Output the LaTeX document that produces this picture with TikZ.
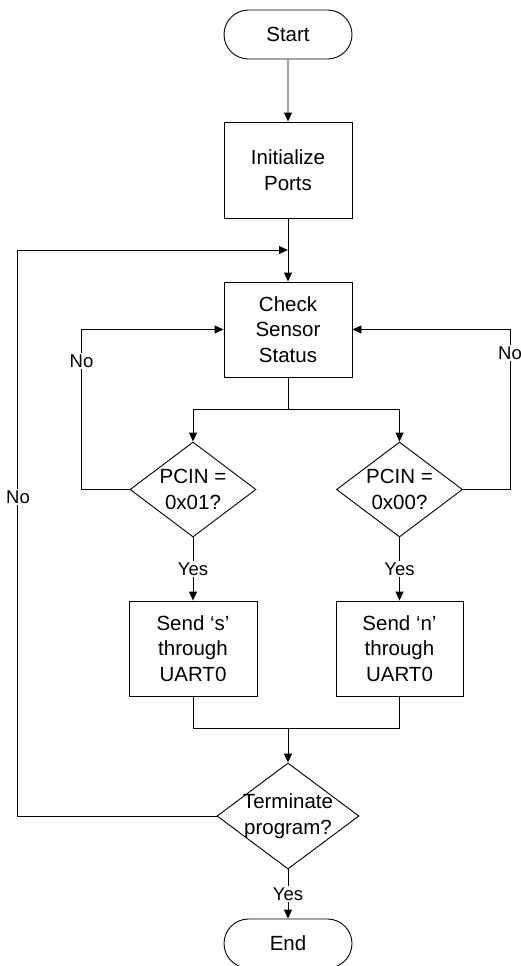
\documentclass[tikz,border=0pt]{standalone}
\usepackage{fontspec}
\setmainfont{Liberation Sans}
\usetikzlibrary{shapes.geometric,shapes.misc,arrows.meta}
\tikzset{
  base/.style={draw=black, line width=0.9pt, inner sep=0pt, align=center,
    font=\fontsize{20.5}{25.5}\selectfont},
  term/.style={base, rounded rectangle, minimum width=128pt, minimum height=49pt},
  proc/.style={base, rectangle, minimum width=128pt, minimum height=95pt},
  dec/.style={base, diamond, minimum width=126pt, minimum height=95pt},
  dtext/.style={align=center, inner sep=0pt, font=\fontsize{20.5}{25.5}\selectfont},
  lbl/.style={fill=white, inner sep=1.5pt, font=\fontsize{18.5}{20}\selectfont},
  conn/.style={line width=0.9pt, draw=black},
  arr/.style={conn, -{Triangle[length=9pt,width=8pt]}}
}
\begin{document}
\begin{tikzpicture}[x=1pt,y=-1pt]
\useasboundingbox (0,0) rectangle (521,966);
% nodes
\node[term] (start) at (288,34.5) {Start};
\node[proc, minimum height=96pt] (init) at (288,170) {Initialize\\Ports};
\node[proc] (check) at (288,329.5) {Check\\Sensor\\Status};
\node[dec] (d1) at (193,489.5) {};
\node[dtext] (d1t) at (d1.center) {PCIN =\\0x01?};
\node[dec] (d2) at (399.5,489.5) {};
\node[dtext] (d2t) at (d2.center) {PCIN =\\0x00?};
\node[proc] (s1) at (193,648.5) {Send ‘s’\\through\\UART0};
\node[proc, minimum width=127pt] (s2) at (399.5,648.5) {Send ‘n’\\through\\UART0};
\node[dec, minimum width=142pt, minimum height=106pt] (tm) at (288,816) {};
\node[dtext] (tmt) at (tm.center) {Terminate\\program?};
\node[term] (end) at (288,943.5) {End};
% junction coordinates
\coordinate (j1) at (288,250);
\coordinate (b) at (288,409);
\coordinate (m) at (288,728);
% connectors
\draw[arr] (start) -- (init);
\draw[arr] (init) -- (check);
\draw[arr] (tm.west) -- ++(-199,0) |- (j1);
\draw[conn] (check.south) -- (b);
\draw[arr] (b) -| (d1.north);
\draw[arr] (b) -| (d2.north);
\draw[arr] (d1.west) -- ++(-48,0) |- (check.west);
\draw[arr] (d2.east) -- ++(47,0) |- (check.east);
\draw[arr] (d1.south) -- node[lbl] (y1) {Yes} (s1.north);
\draw[arr] (d2.south) -- node[lbl] (y2) {Yes} (s2.north);
\draw[conn] (s1.south) |- (m);
\draw[conn] (s2.south) |- (m);
\draw[arr] (m) -- (tm.north);
\draw[arr] (tm.south) -- node[lbl] (y3) {Yes} (end.north);
% No labels
\node[lbl] (n1) at (81.5,361) {No};
\node[lbl] (n2) at (510,353) {No};
\node[lbl] (n3) at (18,497) {No};
\end{tikzpicture}
\end{document}
